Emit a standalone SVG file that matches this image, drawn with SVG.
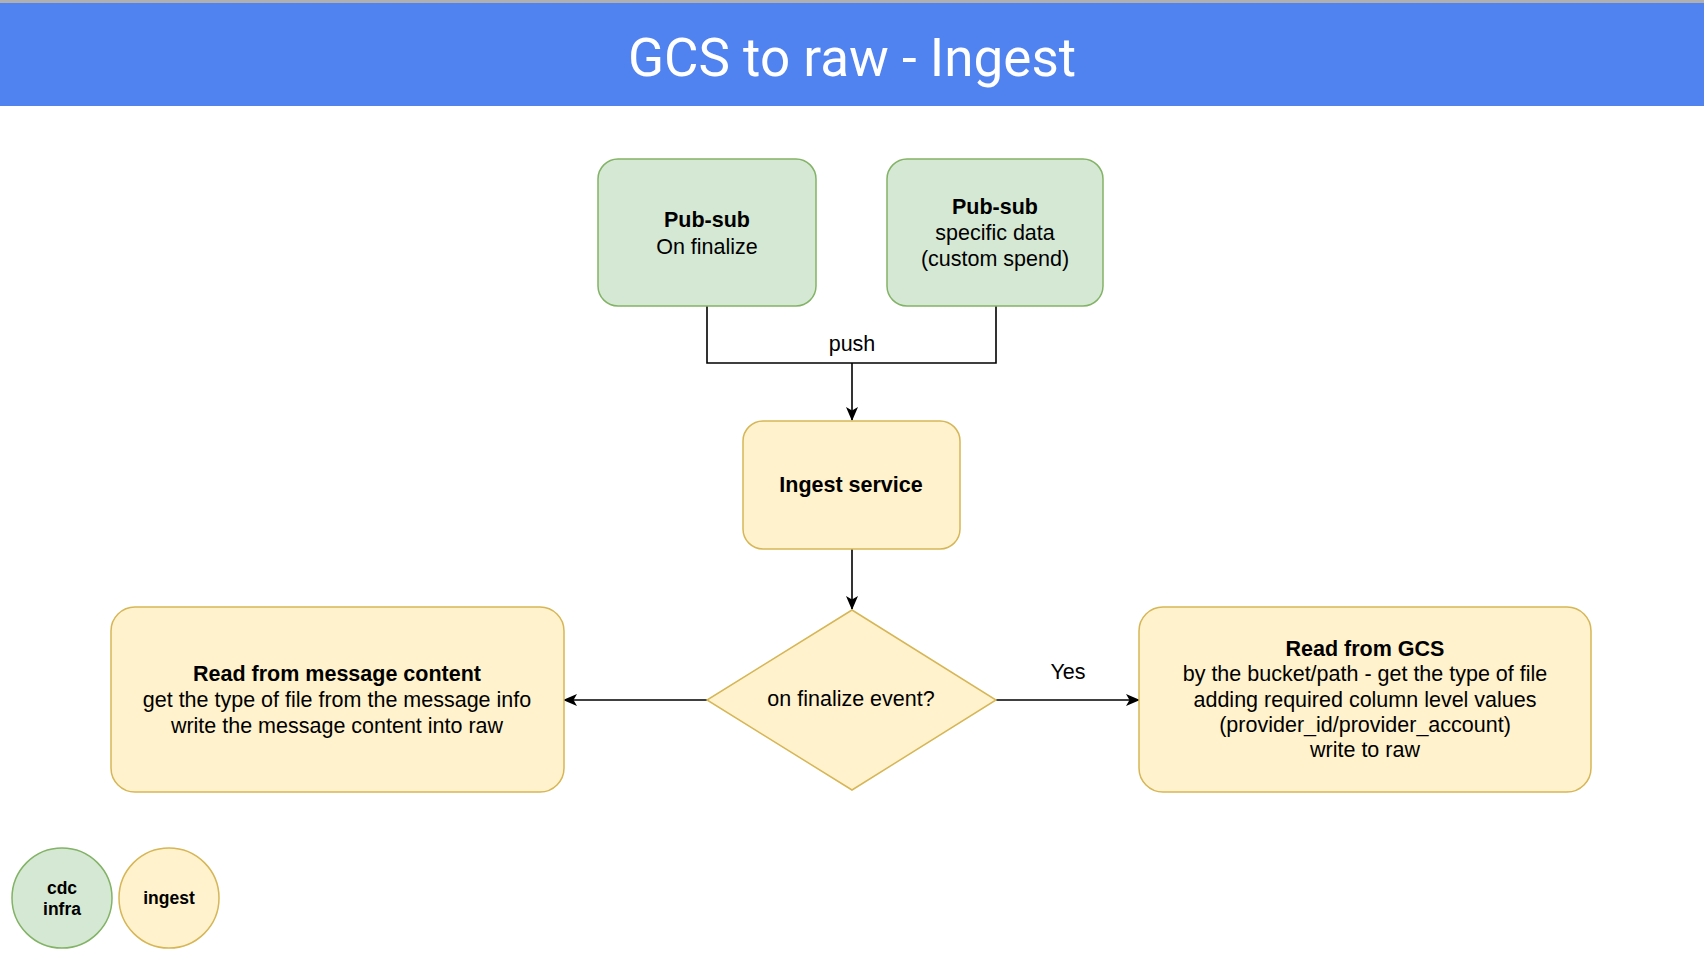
<svg xmlns="http://www.w3.org/2000/svg" width="1704" height="960" viewBox="0 0 1704 960">
<style>
.g{fill:#d5e8d4;stroke:#82b366;stroke-width:1.5}
.y{fill:#fff2cc;stroke:#d6b656;stroke-width:1.5}
.t{font-family:"Liberation Sans",Arial,sans-serif;font-size:21.5px;fill:#000;text-anchor:middle}
.b{font-weight:bold}
.l{font-size:17.5px}
.c{fill:none;stroke:#000;stroke-width:1.6}
</style>
<defs>
<marker id="ar" viewBox="0 0 14 12" refX="13" refY="6" markerWidth="14" markerHeight="12" markerUnits="userSpaceOnUse" orient="auto">
<path d="M0,0 L14,6 L0,12 L3.5,6 Z" fill="#000"/>
</marker>
</defs>
<rect x="0" y="0" width="1704" height="960" fill="#fff"/>
<g id="header">
<rect x="0" y="0" width="1704" height="3" fill="#b0b0b0"/>
<rect x="0" y="3" width="1704" height="103" fill="#5183f0"/>
<text x="852" y="76" font-family="Roboto,'Open Sans',sans-serif" font-size="53" fill="#fff" text-anchor="middle">GCS to raw - Ingest</text>
</g>
<g id="connectors">
<path class="c" d="M707,306 V363 H996 V306"/>
<path class="c" d="M852,363 V420" marker-end="url(#ar)"/>
<text class="t" x="852" y="351">push</text>
<path class="c" d="M852,549 V609" marker-end="url(#ar)"/>
<path class="c" d="M707,700 H564" marker-end="url(#ar)"/>
<path class="c" d="M996,700 H1139" marker-end="url(#ar)"/>
<text class="t" x="1068" y="679">Yes</text>
</g>
<g id="pubsub1">
<rect class="g" x="598" y="159" width="218" height="147" rx="20"/>
<text class="t b" x="707" y="227">Pub-sub</text>
<text class="t" x="707" y="254">On finalize</text>
</g>
<g id="pubsub2">
<rect class="g" x="887" y="159" width="216" height="147" rx="20"/>
<text class="t b" x="995" y="214">Pub-sub</text>
<text class="t" x="995" y="240">specific data</text>
<text class="t" x="995" y="266">(custom spend)</text>
</g>
<g id="ingest">
<rect class="y" x="743" y="421" width="217" height="128" rx="20"/>
<text class="t b" x="851" y="492">Ingest service</text>
</g>
<g id="decision">
<polygon class="y" points="852,610 996,700 852,790 707,700"/>
<text class="t" x="851" y="706">on finalize event?</text>
</g>
<g id="readmsg">
<rect class="y" x="111" y="607" width="453" height="185" rx="24"/>
<text class="t b" x="337" y="681">Read from message content</text>
<text class="t" x="337" y="707">get the type of file from the message info</text>
<text class="t" x="337" y="733">write the message content into raw</text>
</g>
<g id="readgcs">
<rect class="y" x="1139" y="607" width="452" height="185" rx="24"/>
<text class="t b" x="1365" y="656">Read from GCS</text>
<text class="t" x="1365" y="681">by the bucket/path - get the type of file</text>
<text class="t" x="1365" y="707">adding required column level values</text>
<text class="t" x="1365" y="732">(provider_id/provider_account)</text>
<text class="t" x="1365" y="757">write to raw</text>
</g>
<g id="legend-cdc">
<circle class="g" cx="62" cy="898" r="50"/>
<text class="t b l" x="62" y="894">cdc</text>
<text class="t b l" x="62" y="915">infra</text>
</g>
<g id="legend-ingest">
<circle class="y" cx="169" cy="898" r="50"/>
<text class="t b l" x="169" y="904">ingest</text>
</g>
</svg>
